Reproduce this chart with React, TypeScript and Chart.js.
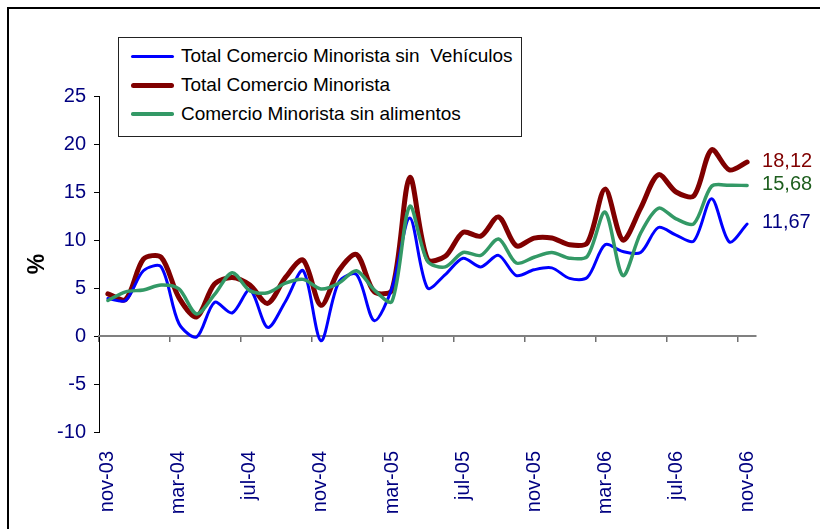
import React, { useEffect, useRef } from 'react';
import { Chart, registerables } from 'chart.js';

Chart.register(...registerables);

const months = [
  'nov-03', 'dic-03', 'ene-04', 'feb-04', 'mar-04', 'abr-04', 'may-04', 'jun-04', 'jul-04', 'ago-04', 'sep-04', 'oct-04',
  'nov-04', 'dic-04', 'ene-05', 'feb-05', 'mar-05', 'abr-05', 'may-05', 'jun-05', 'jul-05', 'ago-05', 'sep-05', 'oct-05',
  'nov-05', 'dic-05', 'ene-06', 'feb-06', 'mar-06', 'abr-06', 'may-06', 'jun-06', 'jul-06', 'ago-06', 'sep-06', 'oct-06',
  'nov-06',
];

const totalSinVehiculos = [
  3.9, 3.7, 6.8, 7.2, 1.3, -0.1, 3.5, 2.4, 4.8, 0.9, 3.6, 6.8,
  -0.5, 5.6, 6.4, 1.6, 5.0, 12.3, 5.0, 6.4, 8.1, 7.2, 8.4, 6.3,
  6.9, 7.1, 6.0, 6.1, 9.5, 8.8, 8.7, 11.3, 10.5, 9.9, 14.3, 9.8,
  11.67,
];

const totalComercio = [
  4.4, 3.8, 8.0, 8.2, 4.0, 2.0, 5.4, 6.1, 5.3, 3.4, 6.1, 7.9,
  3.2, 6.8, 8.5, 4.6, 4.8, 16.5, 8.0, 8.3, 10.8, 10.4, 12.4, 9.4,
  10.2, 10.2, 9.5, 9.7, 15.3, 10.0, 13.3, 16.8, 15.0, 14.6, 19.4, 17.3,
  18.12,
];

const sinAlimentos = [
  3.7, 4.6, 4.8, 5.3, 4.9, 2.3, 4.3, 6.6, 4.7, 4.5, 5.5, 5.9,
  4.9, 5.5, 6.8, 4.8, 3.6, 13.5, 7.8, 7.2, 8.7, 8.4, 10.1, 7.6,
  8.2, 8.7, 8.1, 8.3, 12.9, 6.3, 10.7, 13.3, 12.2, 11.7, 15.6, 15.7,
  15.68,
];

const seriesNames = [
  'Total Comercio Minorista sin  Vehículos',
  'Total Comercio Minorista',
  'Comercio Minorista sin alimentos',
];

const yMin = -10;
const yMax = 25;
const yStep = 5;

const lineColors = ['#0000FF', '#800000', '#339966'];
const lineWidths = [3, 5, 3.5];
const endLabelColors = ['#000080', '#800000', '#1E5E1E'];

const FONT = '"Liberation Sans", Arial, sans-serif';

const endLabelsPlugin = {
  id: 'endLabels',
  afterDraw(chart: any) {
    const ctx = chart.ctx;
    chart.data.datasets.forEach((ds: any, i: number) => {
      const meta = chart.getDatasetMeta(i);
      const pt = meta.data[meta.data.length - 1];
      const v = ds.data[ds.data.length - 1];
      if (!pt) return;
      ctx.save();
      ctx.font = `20px ${FONT}`;
      ctx.fillStyle = endLabelColors[i];
      ctx.textAlign = 'left';
      ctx.textBaseline = 'middle';
      ctx.fillText(v.toFixed(2).replace('.', ','), pt.x + 15, pt.y - 1);
      ctx.restore();
    });
  },
};

export default function App() {
  const canvasRef = useRef<HTMLCanvasElement | null>(null);

  useEffect(() => {
    const canvas = canvasRef.current;
    if (!canvas) return;
    const seriesData = [totalSinVehiculos, totalComercio, sinAlimentos];
    const drawOrder = [1, 2, 0];
    const chart = new Chart(canvas, {
      type: 'line',
      data: {
        labels: months,
        datasets: seriesData.map((d, i) => ({
          label: seriesNames[i],
          data: d,
          borderColor: lineColors[i],
          backgroundColor: lineColors[i],
          borderWidth: lineWidths[i],
          pointRadius: 0,
          pointHoverRadius: 0,
          tension: 0.3,
          fill: false,
          borderCapStyle: 'round',
          borderJoinStyle: 'round',
          order: drawOrder[i],
          xAxisID: 'x',
          yAxisID: 'y',
        })),
      },
      options: {
        responsive: false,
        animation: false,
        events: [],
        layout: { padding: { left: 20, top: 96, right: 64, bottom: 0 } },
        plugins: {
          legend: { display: false },
          title: { display: false },
          tooltip: { enabled: false },
        },
        scales: {
          y: {
            type: 'linear',
            position: 'left',
            min: yMin,
            max: yMax,
            ticks: {
              stepSize: yStep,
              color: '#000080',
              font: { family: FONT, size: 20 },
              padding: 8,
            },
            grid: {
              drawOnChartArea: false,
              drawTicks: true,
              tickLength: 5,
              color: '#000000',
              lineWidth: 1,
            },
            border: { display: true, color: '#000000', width: 1 },
            title: {
              display: true,
              text: '%',
              color: '#000000',
              font: { family: FONT, size: 23, weight: 'bold' },
              padding: { top: 4, bottom: 4 },
            },
            afterFit(scale: any) {
              scale.width = 79;
            },
          },
          x: {
            type: 'category',
            axis: 'x',
            position: { y: 0 },
            offset: true,
            ticks: { display: false, autoSkip: false },
            grid: {
              offset: true,
              drawOnChartArea: false,
              drawTicks: true,
              tickLength: 5,
              lineWidth: 1.5,
              color: (c: any) => (c.index % 4 === 0 && c.index < months.length ? '#707070' : 'rgba(0,0,0,0)'),
            },
            border: { display: true, color: '#808080', width: 2 },
          },
          x2: {
            type: 'category',
            axis: 'x',
            position: 'bottom',
            offset: true,
            grid: { display: false, drawTicks: false },
            border: { display: false },
            ticks: {
              autoSkip: false,
              minRotation: 90,
              maxRotation: 90,
              padding: 19,
              color: '#000080',
              font: { family: FONT, size: 20 },
              callback: (_v: any, idx: number) => (idx % 4 === 0 ? months[idx] : ''),
            },
            afterFit(scale: any) {
              scale.height = 97;
            },
          },
        },
      } as any,
      plugins: [endLabelsPlugin],
    });
    return () => chart.destroy();
  }, []);

  const legendRows = seriesNames.map((name, i) => (
    <div
      key={i}
      style={{ position: 'absolute', left: 0, top: 18 + i * 29 - 12, height: 24, width: 400 }}
    >
      <div
        style={{
          position: 'absolute',
          left: 12,
          top: 12 - lineWidths[i] / 2,
          width: 43,
          height: lineWidths[i],
          background: lineColors[i],
          borderRadius: lineWidths[i] / 2,
        }}
      />
      <div
        style={{
          position: 'absolute',
          left: 62,
          top: 0,
          lineHeight: '24px',
          fontFamily: FONT,
          fontSize: 19,
          color: '#000000',
          whiteSpace: 'pre',
        }}
      >
        {name}
      </div>
    </div>
  ));

  return (
    <div style={{ position: 'fixed', left: 0, top: 0, width: 820, height: 529, overflow: 'hidden', background: '#ffffff' }}>
      <div
        style={{
          position: 'absolute',
          left: 7,
          top: 7,
          width: 900,
          height: 600,
          border: '2px solid #000000',
          boxSizing: 'border-box',
        }}
      />
      <canvas ref={canvasRef} width={820} height={529} style={{ position: 'absolute', left: 0, top: 0, width: 820, height: 529 }} />
      <div
        style={{
          position: 'absolute',
          left: 118,
          top: 37,
          width: 404,
          height: 100,
          border: '1px solid #222222',
          boxSizing: 'border-box',
          background: '#ffffff',
        }}
      >
        {legendRows}
      </div>
    </div>
  );
}
